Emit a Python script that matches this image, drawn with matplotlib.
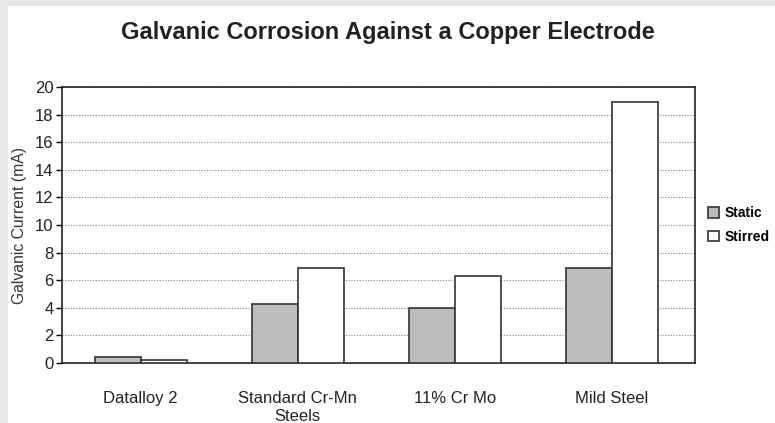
import matplotlib.pyplot as plt
import matplotlib.patches as mpatches
import numpy as np

plt.rcParams['font.family'] = ['Liberation Sans', 'DejaVu Sans']

categories = ['Datalloy 2', 'Standard Cr-Mn\nSteels', '11% Cr Mo', 'Mild Steel']
static = [0.4, 4.3, 4.0, 6.9]
stirred = [0.2, 6.9, 6.3, 18.9]
yticks = [0, 2, 4, 6, 8, 10, 12, 14, 16, 18, 20]


def main():
    fig = plt.figure(figsize=(7.75, 4.23), dpi=100)
    fig.patch.set_facecolor('#e6e6e6')
    fig.patches.append(mpatches.Rectangle((8 / 775, 0), 1, 1 - 6 / 423,
                                          transform=fig.transFigure,
                                          facecolor='white', edgecolor='none', zorder=-5))

    ax = fig.add_axes([62 / 775, 1 - 363 / 423, 633 / 775, 276 / 423])
    x = np.arange(len(categories))
    w = 0.293
    ax.bar(x - w / 2, static, w, color='#bdbdbd', edgecolor='#333333', linewidth=1.2,
           label='Static', zorder=3)
    ax.bar(x + w / 2, stirred, w, color='white', edgecolor='#333333', linewidth=1.2,
           label='Stirred', zorder=3)

    ax.set_xlim(-0.5, 3.53)
    ax.set_ylim(0, 20)
    ax.set_yticks(yticks)
    ax.set_xticks(x)
    ax.set_xticklabels(categories, fontsize=12, color='#222222', linespacing=1.3)
    ax.tick_params(axis='x', length=0, pad=20)
    ax.tick_params(axis='y', length=4, width=1, labelsize=12, labelcolor='#222222', pad=2)
    ax.yaxis.grid(True, linestyle=(0, (1, 1.5)), color='#888888', linewidth=0.8, zorder=0)
    ax.set_axisbelow(True)
    for s in ax.spines.values():
        s.set_color('#222222')
        s.set_linewidth(1.2)

    ax.set_ylabel('Galvanic Current (mA)', fontsize=11.3, color='#333333', labelpad=6)

    fig.text(388 / 775, 1 - 32 / 423, 'Galvanic Corrosion Against a Copper Electrode',
             ha='center', va='center', fontsize=17, fontweight='bold', color='#222222')

    ax.legend(loc='center left', bbox_to_anchor=(1.0, 0.5), frameon=False,
              prop={'weight': 'bold', 'size': 10}, handlelength=0.8, handleheight=0.8,
              handletextpad=0.45, labelspacing=0.7)

    fig.savefig('out.png', dpi=100, facecolor=fig.get_facecolor())


if __name__ == '__main__':
    main()
